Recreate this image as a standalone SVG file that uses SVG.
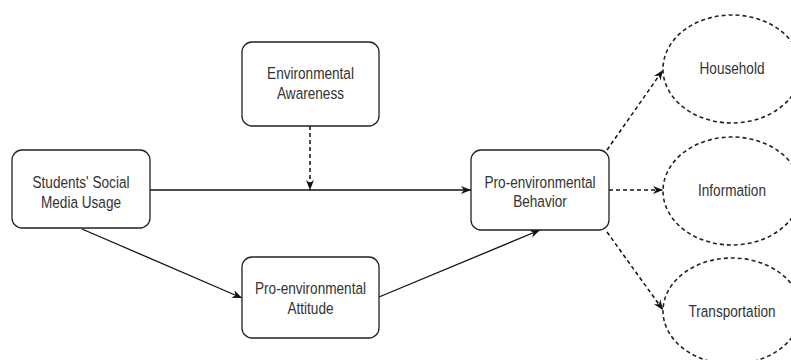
<svg xmlns="http://www.w3.org/2000/svg" width="791" height="360" viewBox="0 0 791 360">
<style>
.box{fill:#fff;stroke:#222;stroke-width:1.3}
.ell{fill:#fff;stroke:#222;stroke-width:1.6;stroke-dasharray:4 3}
.t{font-family:"Liberation Sans",Arial,sans-serif;font-size:13.6px;fill:#333;text-anchor:middle}
.c{fill:none;stroke:#111;stroke-width:1.3}
.d{fill:none;stroke:#111;stroke-width:1.5;stroke-dasharray:4 3}
</style>
<defs>
<marker id="arr" viewBox="0 0 10 10" refX="10" refY="5" markerWidth="10" markerHeight="10" orient="auto" markerUnits="userSpaceOnUse">
<path d="M0,1 L10,5 L0,9 L3,5 Z" fill="#111"/>
</marker>
</defs>
<rect width="791" height="360" fill="#fff"/>
<g id="connectors">
<path class="c" d="M150,190 L471,190" marker-end="url(#arr)"/>
<path class="c" d="M82,229 L242,298" marker-end="url(#arr)"/>
<path class="c" d="M379,297 L540,230" marker-end="url(#arr)"/>
<path class="d" d="M310,126 L310,190" marker-end="url(#arr)"/>
<path class="d" d="M609,190 L663,190" marker-end="url(#arr)"/>
<path class="d" d="M607,150 L663,70" marker-end="url(#arr)"/>
<path class="d" d="M607,232 L663,310" marker-end="url(#arr)"/>
</g>
<g id="usage">
<rect class="box" x="12" y="150" width="138" height="78" rx="10"/>
<text class="t" transform="translate(81,187.5) scale(1,1.22)">Students' Social</text>
<text class="t" transform="translate(81,207.5) scale(1,1.22)">Media Usage</text>
</g>
<g id="awareness">
<rect class="box" x="242" y="42" width="137" height="84" rx="10"/>
<text class="t" transform="translate(310.5,78.5) scale(1,1.22)">Environmental</text>
<text class="t" transform="translate(310.5,98.5) scale(1,1.22)">Awareness</text>
</g>
<g id="behavior">
<rect class="box" x="471" y="150" width="138" height="80" rx="10"/>
<text class="t" transform="translate(540,187.5) scale(1,1.22)">Pro-environmental</text>
<text class="t" transform="translate(540,206.5) scale(1,1.22)">Behavior</text>
</g>
<g id="attitude">
<rect class="box" x="242" y="257" width="137" height="81" rx="10"/>
<text class="t" transform="translate(310.5,293.5) scale(1,1.22)">Pro-environmental</text>
<text class="t" transform="translate(310.5,313.5) scale(1,1.22)">Attitude</text>
</g>
<g id="household">
<ellipse class="ell" cx="732" cy="69" rx="69" ry="54"/>
<text class="t" transform="translate(732,74) scale(1,1.22)">Household</text>
</g>
<g id="information">
<ellipse class="ell" cx="732" cy="191" rx="69" ry="54"/>
<text class="t" transform="translate(732,195.5) scale(1,1.22)">Information</text>
</g>
<g id="transportation">
<ellipse class="ell" cx="732" cy="311" rx="69" ry="53"/>
<text class="t" transform="translate(732,316.5) scale(1,1.22)">Transportation</text>
</g>
</svg>
